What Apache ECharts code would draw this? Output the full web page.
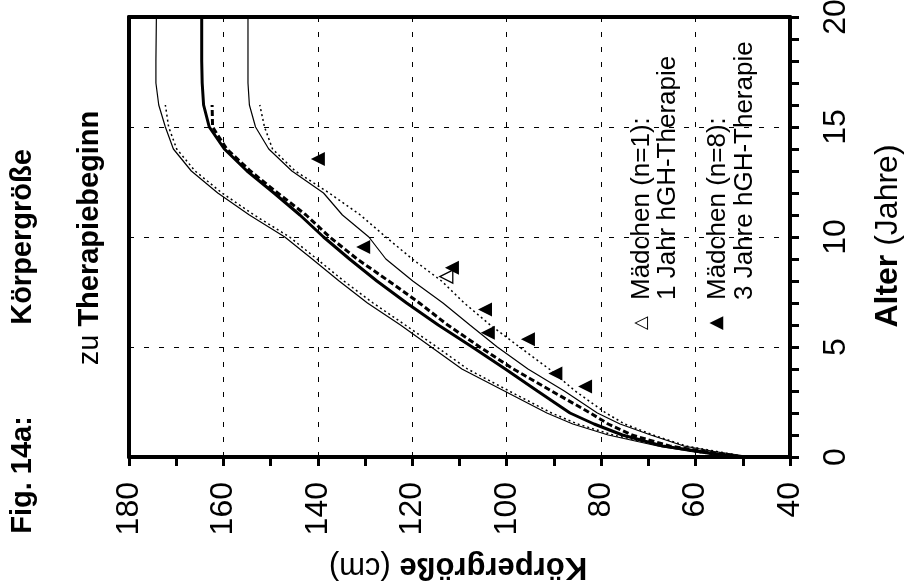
<!DOCTYPE html>
<html>
<head>
<meta charset="utf-8">
<script src="https://cdn.jsdelivr.net/npm/echarts@6/dist/echarts.min.js"></script>
<style>
html,body{margin:0;padding:0;background:#fff;}
#chart{width:909px;height:588px;}
</style>
</head>
<body>
<div id="chart"></div>
<script>
// Ages (Jahre) for the reference curves
var agesFull = [0, 0.25, 0.5, 1, 1.5, 2, 3, 4, 5, 6, 7, 8, 9, 10, 11, 12, 13, 14, 15, 16, 17, 18, 20];
var agesTo16 = [0, 0.25, 0.5, 1, 1.5, 2, 3, 4, 5, 6, 7, 8, 9, 10, 11, 12, 13, 14, 15, 16];

// Heights (cm)
var upperSolid = [53, 61, 68, 78.5, 86, 91.5, 100.5, 109.5, 116, 122.5, 129.5, 135.5, 141.2, 147, 154.5, 161.2, 166.8, 170.6, 172.3, 173.7, 174.3, 174.3, 174.2];
var medianSolid = [51, 59, 67, 75.5, 81.5, 86.6, 93.5, 100.3, 107.3, 114.5, 121.2, 127.5, 133.3, 138.8, 143.8, 149.3, 155, 159.8, 163, 164.2, 164.5, 164.6, 164.6];
var lowerSolid = [48, 56, 62.5, 69.5, 76, 80.8, 87.8, 95.5, 102, 107.8, 113.5, 119.9, 125.6, 129.2, 134.8, 138.8, 145.5, 150.4, 153.2, 154.5, 154.8, 154.8, 154.8];
var upperDotted = [52.5, 60.5, 67, 77.5, 85, 90.5, 99.5, 108.3, 114.8, 121.5, 128.3, 134.5, 140.2, 146, 153.5, 160.3, 166, 169.9, 171.6, 172.3];
var medianDashed = [50, 58, 65.5, 73.5, 78.5, 82.3, 90.5, 98.6, 105.7, 112.5, 118.5, 125, 131.7, 137.5, 142.5, 148.5, 154.3, 159.3, 162.3, 162.4];
var lowerDotted = [49, 55.5, 62, 69, 75, 79, 85.5, 91, 97.3, 103.5, 109, 113.8, 120, 125.6, 131, 137.6, 144.8, 149.6, 151.3, 152.3];

// Patients: [height cm, age years]
var girls3yHeights = [140.0, 130.4, 111.6, 104.6, 104.0, 95.5, 89.7, 83.4];
var girls3yAges = [13.55, 9.55, 8.6, 6.7, 5.65, 5.35, 3.8, 3.2];
var girls1yHeights = [112.8];
var girls1yAges = [8.2];

// Axis titles
var xTitleBold = 'Körpergröße', xTitleNormal = ' (cm)';
var yTitleBold = 'Alter', yTitleNormal = ' (Jahre)';

var FONT = '"Liberation Sans", Arial, sans-serif';

function pairs(h, a) { return h.map(function (v, i) { return [v, a[i]]; }); }

function curve(name, h, a, width, type) {
  return {
    name: name, type: 'line', data: pairs(h, a), showSymbol: false, symbol: 'none',
    smooth: false, silent: true,
    lineStyle: { color: '#000', width: width, type: type },
    z: 3
  };
}

function richText(bold, normal, size) {
  return {
    text: '{b|' + bold + '}{n|' + normal + '}', textAlign: 'center', textVerticalAlign: 'middle',
    rich: { b: { fontFamily: FONT, fontSize: size, fontWeight: 'bold', fill: '#000', color: '#000' },
            n: { fontFamily: FONT, fontSize: size, fill: '#000', color: '#000' } }
  };
}

var chart = echarts.init(document.getElementById('chart'), null, { renderer: 'canvas' });

var option = {
  animation: false,
  backgroundColor: '#fff',
  grid: { left: 129, right: 119, top: 17, bottom: 131, outerBoundsMode: 'none', containLabel: false },
  xAxis: [{
    type: 'value', min: 40, max: 180, interval: 20, inverse: true, position: 'bottom',
    axisLine: { show: true, onZero: false, lineStyle: { color: '#000', width: 4 } },
    axisTick: { show: true, inside: false, length: 9, lineStyle: { color: '#000', width: 3 } },
    minorTick: { show: true, splitNumber: 2, length: 9, lineStyle: { color: '#000', width: 3 } },
    axisLabel: { rotate: 90, margin: 25, fontFamily: FONT, fontSize: 32, color: '#000' },
    splitLine: { show: true, lineStyle: { color: '#000', width: 1, type: [5, 10] } }
  }, {
    type: 'value', min: 40, max: 180, inverse: true, position: 'top',
    axisLine: { show: true, onZero: false, lineStyle: { color: '#000', width: 4 } },
    axisTick: { show: false }, axisLabel: { show: false }, splitLine: { show: false }
  }],
  yAxis: [{
    type: 'value', min: 0, max: 20, interval: 5, position: 'right',
    axisLine: { show: true, onZero: false, lineStyle: { color: '#000', width: 4 } },
    axisTick: { show: true, inside: false, length: 9, lineStyle: { color: '#000', width: 3 } },
    minorTick: { show: true, splitNumber: 5, length: 9, lineStyle: { color: '#000', width: 3 } },
    axisLabel: { rotate: 90, margin: 30, fontFamily: FONT, fontSize: 32, color: '#000' },
    splitLine: { show: true, lineStyle: { color: '#000', width: 1, type: [5, 10] } }
  }, {
    type: 'value', min: 0, max: 20, position: 'left',
    axisLine: { show: true, onZero: false, lineStyle: { color: '#000', width: 4 } },
    axisTick: { show: false }, axisLabel: { show: false }, splitLine: { show: false }
  }],
  series: [
    curve('upperSolid', upperSolid, agesFull, 1.2, 'solid'),
    curve('upperDotted', upperDotted, agesTo16, 1.5, [2, 3]),
    curve('medianSolid', medianSolid, agesFull, 3, 'solid'),
    curve('medianDashed', medianDashed, agesTo16, 3, [6, 3]),
    curve('lowerSolid', lowerSolid, agesFull, 1.2, 'solid'),
    curve('lowerDotted', lowerDotted, agesTo16, 1.5, [2, 3]),
    {
      name: 'Mädchen (n=8)', type: 'scatter', data: pairs(girls3yHeights, girls3yAges),
      symbol: 'triangle', symbolRotate: 90, symbolSize: 14,
      itemStyle: { color: '#000', opacity: 1 }, z: 5, silent: true
    },
    {
      name: 'Mädchen (n=1)', type: 'scatter', data: pairs(girls1yHeights, girls1yAges),
      symbol: 'triangle', symbolRotate: 90, symbolSize: 13,
      itemStyle: { color: '#fff', borderColor: '#000', borderWidth: 1.3, opacity: 1 }, z: 5, silent: true
    }
  ],
  graphic: [
    { type: 'text', x: 458, y: 567, rotation: Math.PI, style: richText(xTitleBold, xTitleNormal, 31) },
    { type: 'text', x: 888, y: 236, rotation: Math.PI / 2, style: richText(yTitleBold, yTitleNormal, 32) },
    { type: 'text', x: 23, y: 475, rotation: Math.PI / 2,
      style: { text: 'Fig. 14a:', font: 'bold 29px ' + FONT, fill: '#000', textAlign: 'center', textVerticalAlign: 'middle' } },
    { type: 'text', x: 23, y: 237, rotation: Math.PI / 2,
      style: { text: 'Körpergröße', font: 'bold 29px ' + FONT, fill: '#000', textAlign: 'center', textVerticalAlign: 'middle' } },
    { type: 'text', x: 90, y: 238, rotation: Math.PI / 2,
      style: { text: '{n|zu }{b|Therapiebeginn}', textAlign: 'center', textVerticalAlign: 'middle',
        rich: { n: { fontFamily: FONT, fontSize: 29, fill: '#000', color: '#000' },
                b: { fontFamily: FONT, fontSize: 29, fontWeight: 'bold', fill: '#000', color: '#000' } } } },
    { type: 'text', x: 641, y: 323, rotation: Math.PI / 2,
      style: { text: '△', font: '18px "DejaVu Sans"', fill: '#000', textAlign: 'center', textVerticalAlign: 'middle' } },
    { type: 'text', x: 642, y: 300, rotation: Math.PI / 2,
      style: { text: 'Mädchen (n=1):', font: '26px ' + FONT, fill: '#000', textAlign: 'left', textVerticalAlign: 'middle' } },
    { type: 'text', x: 668, y: 300, rotation: Math.PI / 2,
      style: { text: '1 Jahr hGH-Therapie', font: '26px ' + FONT, fill: '#000', textAlign: 'left', textVerticalAlign: 'middle' } },
    { type: 'text', x: 716, y: 323, rotation: Math.PI / 2,
      style: { text: '▲', font: '18px "DejaVu Sans"', fill: '#000', textAlign: 'center', textVerticalAlign: 'middle' } },
    { type: 'text', x: 718, y: 300, rotation: Math.PI / 2,
      style: { text: 'Mädchen (n=8):', font: '26px ' + FONT, fill: '#000', textAlign: 'left', textVerticalAlign: 'middle' } },
    { type: 'text', x: 745, y: 300, rotation: Math.PI / 2,
      style: { text: '3 Jahre hGH-Therapie', font: '26px ' + FONT, fill: '#000', textAlign: 'left', textVerticalAlign: 'middle' } }
  ]
};
chart.setOption(option);
</script>
</body>
</html>
